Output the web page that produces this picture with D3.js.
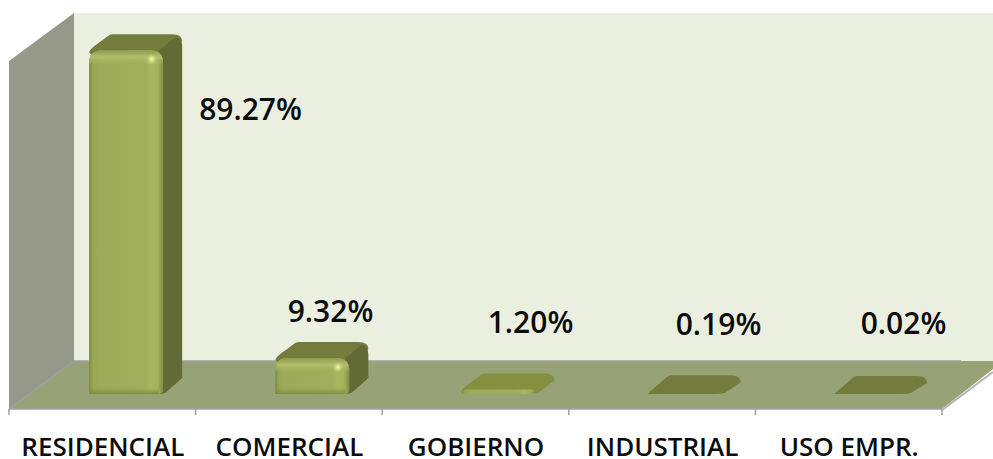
<!DOCTYPE html>
<html>
<head>
<meta charset="utf-8">
<script src="https://cdn.jsdelivr.net/npm/d3@7"></script>
<style>
  html, body { margin: 0; padding: 0; background: #fff; }
  svg { display: block; }
  text { font-family: "Open Sans", sans-serif; font-weight: 600; fill: #0c0c0c; }
</style>
</head>
<body>
<div id="mychart"></div>
<script>
// chart values
var categories = ["RESIDENCIAL", "COMERCIAL", "GOBIERNO", "INDUSTRIAL", "USO EMPR."];
var shares = [89.27, 9.32, 1.20, 0.19, 0.02];
var shareLabels = ["89.27%", "9.32%", "1.20%", "0.19%", "0.02%"];

var width = 993, height = 459;

// floor and wall geometry of the fake 3d box
var frontY = 409, backY = 361, wallTop = 13, depthX = 65;
var left = 9, right = 942;
var barBase = 394, barDx = 19, barDy = 16;

var svg = d3.select("#mychart")
  .append("svg")
    .attr("width", width)
    .attr("height", height);

var x = d3.scaleBand().domain(categories).range([left, right]);

// bars sit a bit further back than the axis, so shifted right
var xBar = d3.scaleBand().domain(categories).range([left + 24, right + 22])
  .paddingInner(0.602).paddingOuter(0.301);

var y = d3.scaleLinear().domain([0, 100]).range([barBase, barBase - 385]);

var defs = svg.append("defs");

var front = defs.append("linearGradient").attr("id", "barFront");
[[0, "#7f8c3e"], [0.05, "#98a653"], [0.12, "#9dab58"], [0.76, "#a0ae5b"], [0.84, "#a9b763"], [0.93, "#a3b05c"], [1, "#7f8b40"]]
  .forEach(function(s) { front.append("stop").attr("offset", s[0]).attr("stop-color", s[1]); });

var bevel = defs.append("linearGradient").attr("id", "barBevel").attr("x2", 0).attr("y2", 1);
[[0, "#8f9c4c", 1], [0.45, "#b2bf6c", 1], [1, "#a3b15c", 0]]
  .forEach(function(s) {
    bevel.append("stop").attr("offset", s[0]).attr("stop-color", s[1]).attr("stop-opacity", s[2]);
  });

var glow = defs.append("radialGradient").attr("id", "barGlow");
[[0, "#f6faa8", 1], [0.45, "#d5de80", 0.8], [1, "#b2bf6c", 0]]
  .forEach(function(s) {
    glow.append("stop").attr("offset", s[0]).attr("stop-color", s[1]).attr("stop-opacity", s[2]);
  });

var bottomFade = defs.append("linearGradient").attr("id", "barBottom").attr("x2", 0).attr("y2", 1);
[[0, "#7f8c3e", 0], [1, "#7f8c3e", 0.9]]
  .forEach(function(s) {
    bottomFade.append("stop").attr("offset", s[0]).attr("stop-color", s[1]).attr("stop-opacity", s[2]);
  });

// back wall
svg.append("path")
  .attr("d", "M" + (left + depthX) + "," + wallTop + "H" + width + "V" + backY + "H" + (left + depthX) + "Z")
  .attr("fill", "#ebefe0");

// left wall
svg.append("path")
  .attr("d", d3.line()([[left, 61], [left + depthX, wallTop], [left + depthX, backY], [left, frontY]]) + "Z")
  .attr("fill", "#96998a");

// floor
svg.append("path")
  .attr("d", d3.line()([[left, frontY], [left + depthX, backY], [width, backY], [width, 369], [right, frontY]]) + "Z")
  .attr("fill", "#97a277");

// floor edges
svg.append("path")
  .attr("d", d3.line()([[left, frontY], [left + depthX, backY], [961, backY]]))
  .attr("fill", "none").attr("stroke", "#a0a0a0").attr("stroke-width", 1.5);

svg.append("path")
  .attr("d", d3.line()([[right, frontY + 1], [width, 372]]))
  .attr("fill", "none").attr("stroke", "#b4b4b4").attr("stroke-width", 2);

// category axis, ticks drawn on the band edges
var axisLine = svg.append("g").attr("stroke", "#a0a0a0").attr("stroke-width", 1.5);
axisLine.append("line").attr("x1", left).attr("x2", right).attr("y1", frontY).attr("y2", frontY);
axisLine.selectAll(".edge")
  .data(x.domain().map(function(d) { return x(d); }).concat([right]))
  .enter().append("line")
    .attr("class", "edge")
    .attr("x1", function(d) { return d; })
    .attr("x2", function(d) { return d; })
    .attr("y1", frontY)
    .attr("y2", frontY + 6);

svg.selectAll(".cat")
  .data(categories)
  .enter().append("text")
    .attr("class", "cat")
    .attr("x", function(d) { return x(d) + x.bandwidth() / 2 + 0.5; })
    .attr("y", 456)
    .attr("text-anchor", "middle")
    .attr("font-size", 26)
    .text(function(d) { return d; });

// bars
var bars = svg.selectAll(".bar")
  .data(categories)
  .enter().append("g")
    .attr("class", "bar");

bars.each(function(c, i) {
  var g = d3.select(this);
  var x0 = xBar(c), x1 = x0 + xBar.bandwidth();
  var yTop = y(shares[i]);
  var h = barBase - yTop;
  var r = Math.min(13, h);
  var dy = h < 2 ? barDy + 2 : barDy;   // the flat ones read a little deeper
  var lip = Math.min(yTop + 4, barBase);

  // top
  g.append("path")
    .attr("d", "M" + x0 + "," + Math.min(yTop + 2, barBase)
      + "Q" + (x0 + 1) + "," + (yTop - 1) + " " + (x0 + 5) + "," + (yTop - 4)
      + "L" + (x0 + barDx + 1) + "," + (yTop - dy + 1)
      + "Q" + (x0 + barDx + 2) + "," + (yTop - dy) + " " + (x0 + barDx + 5) + "," + (yTop - dy)
      + "H" + (x1 + barDx - 10)
      + "Q" + (x1 + barDx) + "," + (yTop - dy) + " " + (x1 + barDx) + "," + (yTop - dy + 7)
      + "L" + (x1 + 3) + "," + (lip - 1)
      + "Q" + (x1 - 1) + "," + lip + " " + (x1 - 6) + "," + lip
      + "H" + (x0 + 2)
      + "Z")
    .attr("fill", h > 2 && h < 8 ? "#848f40" : "#737c3d");

  // right side
  if (h > 8) {
    g.append("path")
      .attr("d", "M" + (x1 - 5) + "," + (yTop + 1)
        + "L" + (x1 + barDx - 7) + "," + (yTop - barDy + 3)
        + "Q" + (x1 + barDx) + "," + (yTop - barDy + 4) + " " + (x1 + barDx) + "," + (yTop - barDy + 12)
        + "V" + (barBase - barDy)
        + "L" + (x1 + 2) + "," + (barBase - 1)
        + "L" + (x1 - 3) + "," + barBase
        + "Z")
      .attr("fill", "#626b36");
  }

  // front
  if (h > 2) {
    g.append("path")
      .attr("d", "M" + x0 + "," + barBase
        + "V" + (yTop + r)
        + "Q" + x0 + "," + yTop + " " + (x0 + r) + "," + yTop
        + "H" + (x1 - r)
        + "Q" + x1 + "," + yTop + " " + x1 + "," + (yTop + r)
        + "V" + (barBase - 4)
        + "Q" + x1 + "," + barBase + " " + (x1 - 6) + "," + barBase
        + "Z")
      .attr("fill", "url(#barFront)");
  }

  if (h > 8) {
    // rounded top edge with the small highlight
    g.append("path")
      .attr("d", "M" + x0 + "," + (yTop + r + 2)
        + "V" + (yTop + r)
        + "Q" + x0 + "," + yTop + " " + (x0 + r) + "," + yTop
        + "H" + (x1 - r)
        + "Q" + x1 + "," + yTop + " " + x1 + "," + (yTop + r)
        + "V" + (yTop + r + 2)
        + "Z")
      .attr("fill", "url(#barBevel)");
    g.append("circle")
      .attr("cx", x1 - 11.5).attr("cy", yTop + 9).attr("r", 6)
      .attr("fill", "url(#barGlow)");
    g.append("rect")
      .attr("x", x0).attr("width", x1 - x0 - 4)
      .attr("y", barBase - 6).attr("height", 6)
      .attr("fill", "url(#barBottom)");
  }
});

// value labels, tucked next to the tallest bar and above the rest
var labelX = [250.5, 330.5, 530.5, 718.5, 903.5];
var labelY = [120, 322, 333, 335, 334];

svg.selectAll(".val")
  .data(shareLabels)
  .enter().append("text")
    .attr("class", "val")
    .attr("x", function(d, i) { return labelX[i]; })
    .attr("y", function(d, i) { return labelY[i]; })
    .attr("text-anchor", "middle")
    .attr("font-size", 30)
    .text(function(d) { return d; });
</script>
</body>
</html>
